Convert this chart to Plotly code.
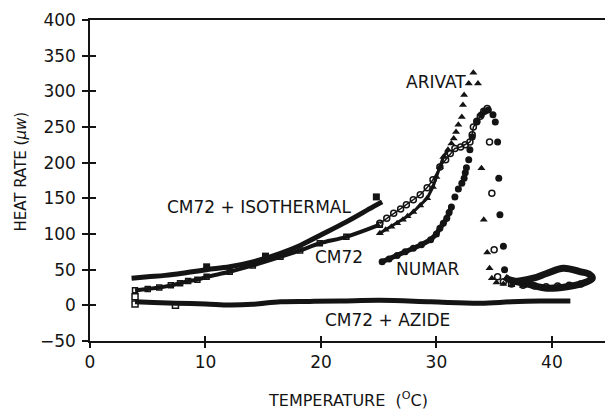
import plotly.graph_objects as go

# ---------------- data ----------------
# CM72 + ISOTHERMAL (solid heavy line, filled squares)
ISO_T = [3.6, 5.0, 6.5, 8.0, 10.1, 12.1, 14.1, 16.5, 18.2, 19.9, 22.2, 24.5, 25.3]
ISO_H = [38, 40, 42, 45, 50, 54, 61, 73, 84, 98, 117, 138, 145]
ISO_SQ_T = [10.1, 15.2, 24.8]
ISO_SQ_H = [54, 69, 152]

# CM72 (open symbols), low-temperature part
CM_LOW_T = [3.9, 5.0, 6.0, 7.0, 7.8, 8.5, 9.3, 10.1, 12.1, 14.1, 16.5, 18.2, 19.9, 22.2, 25.1]
CM_LOW_H = [21, 23, 25, 28, 31, 34, 36, 40, 47, 56, 68, 77, 87, 96, 113]

# CM72 (open circles), high-temperature part
CM_T = [25.1, 25.7, 26.3, 26.9, 27.4, 28.0, 28.6, 29.2, 29.7, 30.3, 30.8, 31.2, 31.6, 32.1,
        32.5, 32.9, 33.1, 33.2, 33.5, 33.8, 34.1, 34.4, 34.6, 34.8, 35.0,
        35.3, 35.8, 36.5, 37.5, 38.5, 39.5, 40.5, 41.5, 42.5]
CM_H = [115, 122, 129, 135, 141, 148, 155, 165, 176, 194, 204, 213, 220, 222,
        225, 229, 239, 250, 258, 265, 272, 276, 229, 157, 78,
        40, 33, 30, 28, 27, 26, 27, 28, 30]
CM_DENSE = 22

# ARIVAT (filled triangles)
AR_T = [25.1, 25.6, 26.1, 26.6, 27.1, 27.5, 28.0, 28.6, 29.2, 29.7, 30.0, 30.3, 30.6, 31.0,
        31.3, 31.5, 31.7, 31.9, 32.2, 32.3, 32.4, 32.8, 33.2, 33.6, 33.9, 34.1, 34.4, 34.6,
        34.8, 35.2, 35.8, 36.5, 37.5, 38.5, 39.5, 40.5, 41.5]
AR_H = [101, 106, 110, 115, 120, 125, 131, 140, 150, 166, 180, 194, 208, 218,
        227, 234, 243, 253, 264, 281, 295, 311, 326, 311, 192, 120, 74, 52,
        38, 32, 30, 28, 27, 26, 25, 26, 27]
AR_DENSE = 14

# NUMAR (filled circles)
NU_T = [25.3, 25.9, 26.6, 27.3, 28.0, 28.7, 29.5, 30.0, 30.3, 30.6, 30.9, 31.1, 31.3, 31.6,
        31.9, 32.2, 32.4, 32.5, 32.6, 32.8, 32.9, 33.1, 33.5, 33.9, 34.2, 34.5, 34.9, 35.1,
        35.3, 35.4, 35.5, 35.8, 35.9]
NU_H = [61, 65, 70, 75, 80, 85, 92, 100, 108, 115, 122, 130, 138, 152,
        163, 171, 178, 186, 193, 204, 218, 236, 257, 267, 272, 274, 267, 257,
        229, 178, 127, 83, 50]
NU_DENSE = 13
# NUMAR baseline loop after the peak
NU_TAIL_T = [35.9, 36.3, 37.0, 38.1, 39.6, 41.3, 42.5, 43.5, 43.2, 42.5, 41.0, 39.6, 38.4, 37.2, 36.4]
NU_TAIL_H = [40, 36, 33, 29, 24, 26, 30, 38, 44, 47, 52, 45, 38, 34, 33]

# CM72 + AZIDE
AZ_T = [3.9, 5.5, 7.4, 10.0, 12.1, 14.1, 16.5, 19.0, 21.7, 25.1, 29.5, 33.8, 36.5, 39.0, 41.6]
AZ_H = [5, 4, 3, 2, 0.5, 1.5, 5, 5.5, 6, 7, 5, 3, 5, 6, 6]
AZ_SQ_T = [3.9, 3.9, 7.4]
AZ_SQ_H = [12, 2, 0]

# labels
LAB_TEXT = ["CM72 + ISOTHERMAL", "CM72", "NUMAR", "ARIVAT", "CM72 + AZIDE"]
LAB_T = [14.6, 21.6, 29.2, 30.0, 25.8]
LAB_H = [138, 68, 51, 313, -21]

X_TICKS = [0, 10, 20, 30, 40]
Y_TICKS = [-50, 0, 50, 100, 150, 200, 250, 300, 350, 400]

# ---------------- figure ----------------
INK = "#141414"
FONT = "DejaVu Sans"
fig = go.Figure()

# heavy curves
fig.add_trace(go.Scatter(x=ISO_T, y=ISO_H, mode="lines",
                         line=dict(color=INK, width=5, shape="spline")))
fig.add_trace(go.Scatter(x=ISO_SQ_T, y=ISO_SQ_H, mode="markers",
                         marker=dict(symbol="square", size=7, color=INK)))
fig.add_trace(go.Scatter(x=CM_LOW_T, y=CM_LOW_H, mode="lines+markers",
                         line=dict(color=INK, width=4, shape="spline"),
                         marker=dict(symbol="square-open", size=5, color=INK, line=dict(width=1.5))))
fig.add_trace(go.Scatter(x=AZ_T, y=AZ_H, mode="lines", xaxis="x2", yaxis="y2",
                         line=dict(color=INK, width=5, shape="spline")))
fig.add_trace(go.Scatter(x=AZ_SQ_T, y=AZ_SQ_H, mode="markers",
                         marker=dict(symbol="square-open", size=6, color=INK, line=dict(width=1.5))))

# dense chains (connecting line through densely sampled part)
fig.add_trace(go.Scatter(x=CM_T[:CM_DENSE], y=CM_H[:CM_DENSE], mode="lines",
                         line=dict(color=INK, width=1.5)))
fig.add_trace(go.Scatter(x=AR_T[:AR_DENSE], y=AR_H[:AR_DENSE], mode="lines",
                         line=dict(color=INK, width=3)))
fig.add_trace(go.Scatter(x=NU_T[:NU_DENSE], y=NU_H[:NU_DENSE], mode="lines",
                         line=dict(color=INK, width=5)))
fig.add_trace(go.Scatter(x=NU_TAIL_T, y=NU_TAIL_H, mode="lines",
                         line=dict(color=INK, width=7, shape="spline")))

# symbol series
fig.add_trace(go.Scatter(x=CM_T, y=CM_H, mode="markers",
                         marker=dict(symbol="circle-open", size=6, color=INK, line=dict(width=1.5))))
fig.add_trace(go.Scatter(x=AR_T, y=AR_H, mode="markers",
                         marker=dict(symbol="triangle-up", size=7, color=INK)))
fig.add_trace(go.Scatter(x=NU_T, y=NU_H, mode="markers",
                         marker=dict(symbol="circle", size=7, color=INK)))

annotations = []
for txt, t, h in zip(LAB_TEXT, LAB_T, LAB_H):
    annotations.append(dict(x=t, y=h, xref="x", yref="y", text=txt, showarrow=False,
                            font=dict(family=FONT, size=17, color=INK),
                            xanchor="center", yanchor="middle"))
annotations.append(dict(x=0.5, y=0, xref="paper", yref="paper",
                        text="TEMPERATURE\u00a0\u00a0(<sup>O</sup>C)", showarrow=False,
                        font=dict(family=FONT, size=16, color=INK),
                        xanchor="center", yanchor="middle", yshift=-58))
annotations.append(dict(x=0, y=0.5, xref="paper", yref="paper",
                        text="HEAT RATE (<i>\u03bcw</i>)", showarrow=False, textangle=-90,
                        font=dict(family=FONT, size=15, color=INK),
                        xanchor="center", yanchor="middle", xshift=-70, yshift=9))

axis_common = dict(showgrid=False, zeroline=False, color=INK)
fig.update_layout(
    width=605, height=410,
    margin=dict(l=90, r=0, t=20, b=69),
    paper_bgcolor="white", plot_bgcolor="white",
    showlegend=False,
    font=dict(family=FONT, size=17, color=INK),
    annotations=annotations,
    xaxis=dict(range=[0, 44.6], tickvals=X_TICKS, ticks="outside", ticklen=5, tickwidth=1.5,
               tickcolor=INK, showline=True, linewidth=1.5, linecolor=INK, mirror=True,
               tickfont=dict(family=FONT, size=17, color=INK), **axis_common),
    yaxis=dict(range=[-50, 400], tickvals=Y_TICKS, ticks="outside", ticklen=6, tickwidth=1.5,
               tickcolor=INK, showline=True, linewidth=1.5, linecolor=INK,
               ticklabelstandoff=3,
               tickfont=dict(family=FONT, size=17, color=INK), **axis_common),
    xaxis2=dict(range=[0, 44.6], tickvals=X_TICKS, ticks="inside", ticklen=5, tickwidth=1.5,
                tickcolor=INK, showticklabels=False, showline=False, overlaying="x",
                anchor="y", side="bottom", **axis_common),
    yaxis2=dict(range=[-50, 400], tickvals=Y_TICKS, ticks="inside", ticklen=6, tickwidth=1.5,
                tickcolor=INK, showticklabels=False, showline=False, overlaying="y",
                anchor="x", side="left", **axis_common),
)

fig.write_html("out.html", config={"displayModeBar": False},
               post_script="document.body.style.margin='0';document.body.style.padding='0';")
